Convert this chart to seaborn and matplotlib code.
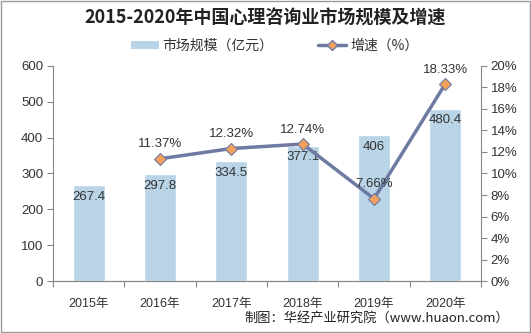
import matplotlib
matplotlib.use("Agg")
import matplotlib.pyplot as plt
import matplotlib.ticker as mticker
from matplotlib.lines import Line2D
from matplotlib.patches import Patch
import seaborn as sns
import pandas as pd
import numpy as np

years = ["2015年", "2016年", "2017年", "2018年", "2019年", "2020年"]
market_size = [267.4, 297.8, 334.5, 377.1, 406, 480.4]
growth_years = ["2016年", "2017年", "2018年", "2019年", "2020年"]
growth_rate = [11.37, 12.32, 12.74, 7.66, 18.33]

sns.set_theme(style="white")
plt.rcParams["font.family"] = ["Liberation Sans", "Noto Sans CJK SC", "DejaVu Sans"]
plt.rcParams["axes.unicode_minus"] = False

BAR = "#B8D4E6"
LINE = "#6F7AA3"
MARK = "#F2A15C"
GRAY = "#888888"
TXT = "#333333"
NUM_FONT = ["Liberation Sans", "DejaVu Sans"]
CJK_FONT = ["Noto Sans CJK SC", "DejaVu Sans"]

fig = plt.figure(figsize=(5.31, 3.33), dpi=100)
fig.patch.set_facecolor("white")
ax = fig.add_axes([0.0998, 0.156, 0.806, 0.646])

df_bar = pd.DataFrame({"year": years, "size": market_size})
sns.barplot(data=df_bar, x="year", y="size", color=BAR, width=0.45,
            saturation=1, ax=ax)
ax.set_ylim(0, 600)
ax.set_xlim(-0.5, len(years) - 0.5)
ax.set_yticks(range(0, 601, 100))
ax.set_xlabel("")
ax.set_ylabel("")

for i, v in enumerate(market_size):
    ax.annotate(f"{v:g}", (i, v), xytext=(0, -4), textcoords="offset points",
                ha="center", va="top", fontsize=9.5, color=TXT,
                family=NUM_FONT)

ax2 = ax.twinx()
x_pos = [years.index(y) for y in growth_years]
df_line = pd.DataFrame({"pos": x_pos, "rate": growth_rate})
sns.lineplot(data=df_line, x="pos", y="rate", color=LINE, linewidth=2.5,
             marker="D", markersize=6.5, markerfacecolor=MARK,
             markeredgecolor=LINE, markeredgewidth=0.8, ax=ax2)
ax2.set_ylim(0, 20)
ax2.set_yticks(range(0, 21, 2))
ax2.yaxis.set_major_formatter(mticker.FuncFormatter(lambda v, p: f"{v:.0f}%"))
ax2.set_ylabel("")
ax2.set_xlim(-0.5, len(years) - 0.5)

for xp, r in zip(x_pos, growth_rate):
    ax2.annotate(f"{r:.2f}%", (xp, r), xytext=(0, 6), textcoords="offset points",
                 ha="center", va="bottom", fontsize=9.5, color=TXT,
                 family=NUM_FONT)

for a in (ax, ax2):
    a.spines["top"].set_visible(False)
    for s in ("left", "right", "bottom"):
        a.spines[s].set_color(GRAY)
        a.spines[s].set_linewidth(0.8)
ax2.spines["left"].set_visible(False)
ax.spines["right"].set_visible(False)

ax.tick_params(axis="y", direction="out", length=4, width=0.8, color=GRAY,
               labelsize=9.5, labelcolor=TXT, left=True, pad=3)
ax2.tick_params(axis="y", direction="out", length=4, width=0.8, color=GRAY,
                labelsize=9.5, labelcolor=TXT, right=True, pad=3)
ax.tick_params(axis="x", bottom=False, labelsize=9, labelcolor=TXT, pad=6)
for lab in ax.get_xticklabels():
    lab.set_family(["Liberation Sans", "Noto Sans CJK SC"])

# tick marks on the category boundaries
ax.set_xticks(np.arange(-0.5, len(years), 1), minor=True)
ax.tick_params(axis="x", which="minor", bottom=True, direction="out",
               length=4, width=0.8, color=GRAY)

fig.text(0.5, 0.946, "2015-2020年中国心理咨询业市场规模及增速", ha="center",
         va="center", fontsize=13, fontweight="bold", color="#222222",
         family=CJK_FONT)

handles = [Patch(facecolor=BAR, edgecolor="none"),
           Line2D([0], [0], color=LINE, lw=2.5, marker="D", markersize=5.5,
                  markerfacecolor=MARK, markeredgecolor=LINE)]
fig.legend(handles, ["市场规模（亿元）", "增速（%）"], loc="center",
           bbox_to_anchor=(0.517, 0.863), ncol=2, frameon=False,
           prop={"family": CJK_FONT, "size": 10},
           handlelength=2.0, handleheight=0.5, columnspacing=3.2,
           handletextpad=0.3, labelcolor=TXT)

fig.text(0.958, 0.045, "制图：华经产业研究院（www.huaon.com）", ha="right",
         va="center", fontsize=9.5, color="#222222", family=CJK_FONT)

border = plt.Rectangle((0.002, 0.003), 0.996, 0.994, transform=fig.transFigure,
                       fill=False, edgecolor="#999999", linewidth=1)
fig.add_artist(border)

fig.savefig("out.png", dpi=100)
